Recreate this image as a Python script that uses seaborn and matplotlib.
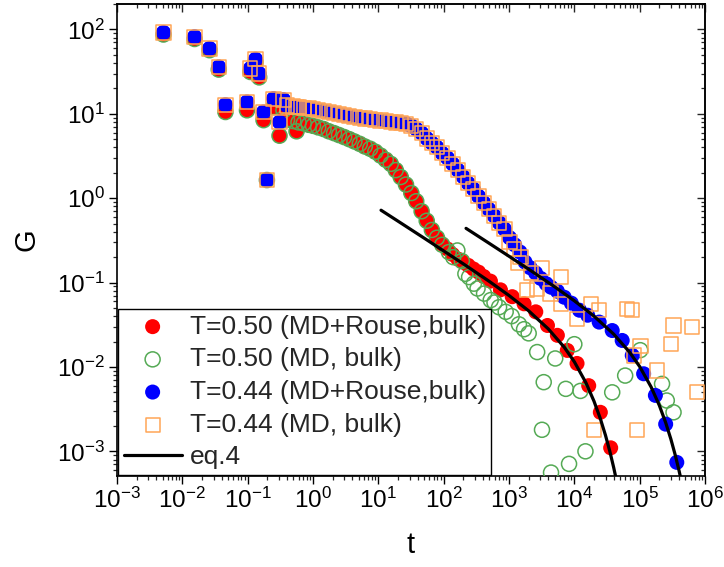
import numpy as np
import matplotlib
matplotlib.use("Agg")
import matplotlib.pyplot as plt
from matplotlib.ticker import LogLocator, NullFormatter
import seaborn as sns

# ---------------- data ----------------
early_t = [0.00514, 0.0154, 0.0261, 0.0361, 0.0457, 0.0977, 0.11, 0.132,
           0.15, 0.175, 0.197, 0.249, 0.307, 0.353, 0.56]
red_early_G = [87, 77, 56.7, 33.4, 10.5, 11.0, 31.3, 41, 27, 8.4, 1.64, 12, 5.5, 11, 6.2]
blue_early_G = [92, 82, 59.4, 35.9, 12.8, 13.8, 34.4, 44.3, 30, 10.5, 1.64, 15.1, 7.95, 14.7, 12.0]

red_t = [0.4, 0.5, 0.6, 0.72, 0.86, 1.0, 1.2, 1.45, 1.75, 2.1, 2.5, 3.0, 3.6, 4.3,
         5.2, 6.2, 7.5, 9.0, 10.8, 13, 15.5, 18.5, 22, 26.5, 32, 38, 46, 55, 66,
         79, 95, 114, 137, 165, 198, 237, 285, 342, 410, 520, 740, 1120, 1700,
         2570, 3880, 5500, 7800, 11000, 16600, 25000, 36000]
red_G = [8.5, 8.2, 7.9, 7.7, 7.4, 7.2, 6.9, 6.6, 6.2, 5.9, 5.6, 5.3, 5.0, 4.7,
         4.4, 4.1, 3.85, 3.55, 3.2, 2.85, 2.55, 2.15, 1.78, 1.45, 1.15, 0.92,
         0.70, 0.54, 0.42, 0.34, 0.285, 0.25, 0.215, 0.19, 0.175, 0.16, 0.145,
         0.133, 0.118, 0.104, 0.082, 0.068, 0.056, 0.045, 0.031, 0.0237, 0.0157,
         0.011, 0.006, 0.0029, 0.0011]

green_t = [0.4, 0.5, 0.6, 0.72, 0.86, 1.0, 1.2, 1.45, 1.75, 2.1, 2.5, 3.0, 3.6, 4.3,
           5.2, 6.2, 7.5, 9.0, 10.8, 13, 15.5, 18.5, 22, 26.5, 32, 38, 46, 55, 66,
           79, 95, 120, 140, 162, 190, 215, 245, 290, 330, 415, 525, 600, 705, 890,
           1100, 1420, 1700, 2000, 2700, 3200, 3400, 4400, 5100, 7400, 8300, 10000,
           12400, 14800, 38000, 60000, 102000, 220000, 260000, 330000]
green_G = [8.5, 8.2, 7.9, 7.7, 7.4, 7.2, 6.9, 6.6, 6.2, 5.9, 5.6, 5.3, 5.0, 4.7,
           4.4, 4.1, 3.85, 3.55, 3.2, 2.85, 2.55, 2.15, 1.78, 1.45, 1.15, 0.92,
           0.70, 0.54, 0.42, 0.34, 0.28, 0.23, 0.2, 0.24, 0.18, 0.127, 0.116,
           0.097, 0.085, 0.074, 0.062, 0.058, 0.051, 0.045, 0.04, 0.032, 0.028,
           0.025, 0.015, 0.0018, 0.0066, 0.00056, 0.0126, 0.0055, 0.00071, 0.0186,
           0.0052, 0.001, 0.005, 0.0079, 0.0158, 0.0063, 0.004, 0.0029]

blue_t = [0.4, 0.5, 0.6, 0.72, 0.86, 1.0, 1.2, 1.45, 1.75, 2.1, 2.5, 3.0, 3.6, 4.3,
          5.2, 6.2, 7.5, 9.0, 10.8, 13, 15.5, 18.5, 22, 26.5, 32, 38, 46, 55, 66,
          79, 95, 114, 137, 165, 198, 237, 285, 342, 410, 490, 590, 710, 850, 1020,
          1220, 1470, 1760, 2100, 2550, 3050, 3700, 4400, 5500, 7000, 9000, 12000,
          16000, 24000, 38000, 54000, 77000, 115000, 174000, 250000, 370000]
blue_G = [12.5, 12.2, 12.0, 11.8, 11.6, 11.4, 11.1, 10.8, 10.5, 10.2, 9.9, 9.6,
          9.4, 9.2, 9.0, 8.8, 8.6, 8.5, 8.3, 8.15, 8.0, 7.9, 7.8, 7.6, 7.2, 6.6,
          5.9, 5.1, 4.5, 4.0, 3.4, 3.0, 2.55, 2.15, 1.8, 1.5, 1.28, 1.05, 0.88,
          0.74, 0.62, 0.51, 0.43, 0.34, 0.28, 0.23, 0.175, 0.15, 0.13, 0.112,
          0.097, 0.088, 0.079, 0.067, 0.057, 0.047, 0.041, 0.034, 0.027, 0.0206,
          0.0137, 0.0083, 0.0046, 0.0021, 0.00074]

orange_t = [0.4, 0.5, 0.6, 0.72, 0.86, 1.0, 1.2, 1.45, 1.75, 2.1, 2.5, 3.0, 3.6, 4.3,
            5.2, 6.2, 7.5, 9.0, 10.8, 13, 15.5, 18.5, 22, 26.5, 32, 38, 46, 55, 66,
            79, 95, 114, 137, 165, 198, 237, 285, 342, 410, 490, 590, 710, 850, 1020,
            1200, 1400, 1500, 1900, 2200, 2700, 3200, 4300, 6200, 6200, 11000, 18000,
            20000, 24000, 64000, 77000, 81000, 91000, 103000, 185000, 300000, 330000,
            630000, 760000]
orange_G = [12.5, 12.2, 12.0, 11.8, 11.6, 11.4, 11.1, 10.8, 10.5, 10.2, 9.9, 9.6,
            9.4, 9.2, 9.0, 8.8, 8.6, 8.5, 8.3, 8.15, 8.0, 7.9, 7.8, 7.6, 7.2, 6.6,
            5.9, 5.1, 4.5, 4.0, 3.4, 3.0, 2.55, 2.15, 1.8, 1.5, 1.28, 1.05, 0.88,
            0.74, 0.62, 0.51, 0.43, 0.3, 0.25, 0.17, 0.2, 0.081, 0.13, 0.085, 0.15,
            0.074, 0.116, 0.056, 0.037, 0.056, 0.0018, 0.047, 0.049, 0.047, 0.0137,
            0.0018, 0.0178, 0.0091, 0.0186, 0.031, 0.030, 0.005]

eq4_t_050 = [11, 20, 50, 100, 200, 500, 1000, 2000, 4000, 7000, 10000, 15000,
             20000, 25000, 30000, 35000, 40000, 45000]
eq4_G_050 = [0.720, 0.534, 0.337, 0.237, 0.1666, 0.1031, 0.0703, 0.0462, 0.0282,
             0.01714, 0.01152, 0.00653, 0.003926, 0.00244, 0.001546, 0.000993,
             0.000644, 0.000422]
eq4_t_044 = [220, 500, 1000, 2000, 5000, 10000, 20000, 40000, 70000, 100000,
             150000, 200000, 250000, 300000, 350000, 400000, 430000]
eq4_G_044 = [0.439, 0.291, 0.205, 0.144, 0.0891, 0.0608, 0.0400, 0.0245, 0.01497,
             0.01011, 0.00577, 0.0035, 0.00219, 0.0014, 0.000906, 0.000593, 0.000462]

labels = ["T=0.50 (MD+Rouse,bulk)", "T=0.50 (MD, bulk)",
          "T=0.44 (MD+Rouse,bulk)", "T=0.44 (MD, bulk)", "eq.4"]

# ---------------- styling ----------------
sns.set_theme(style="ticks")
plt.rcParams['font.family'] = ['Liberation Sans', 'DejaVu Sans']
plt.rcParams['mathtext.fontset'] = 'custom'
plt.rcParams['mathtext.rm'] = 'Liberation Sans'
plt.rcParams['mathtext.it'] = 'Liberation Sans:italic'
plt.rcParams['mathtext.bf'] = 'Liberation Sans:bold'

fig = plt.figure(figsize=(7.24, 5.67), dpi=100)
ax = fig.add_axes([117 / 724, 91 / 567, 588 / 724, 472 / 567])
ax.set_xscale('log')
ax.set_yscale('log')

msize = 117
sns.scatterplot(x=early_t + red_t, y=red_early_G + red_G, ax=ax, marker='o', s=msize,
                color='#ff0000', edgecolor='none', linewidth=0, label=labels[0], zorder=2)
sns.scatterplot(x=early_t + green_t, y=red_early_G + green_G, ax=ax, marker='o', s=msize,
                facecolors='none', edgecolor='#55aa55', linewidth=1.1, label=labels[1], zorder=3)
sns.scatterplot(x=early_t + blue_t, y=blue_early_G + blue_G, ax=ax, marker='o', s=msize,
                color='#0000ff', edgecolor='none', linewidth=0, label=labels[2], zorder=4)
sns.scatterplot(x=early_t + orange_t, y=blue_early_G + orange_G, ax=ax, marker='s', s=105,
                facecolors='none', edgecolor='#ffa556', linewidth=1.1, label=labels[3], zorder=5)
sns.lineplot(x=eq4_t_050, y=eq4_G_050, ax=ax, color='black', linewidth=2.3, sort=False,
             estimator=None, label=labels[4], zorder=6)
sns.lineplot(x=eq4_t_044, y=eq4_G_044, ax=ax, color='black', linewidth=2.3, sort=False,
             estimator=None, label='_nolegend_', zorder=6)

ax.set_xlim(1e-3, 1e6)
ax.set_ylim(5.1e-4, 200)

for axis in (ax.xaxis, ax.yaxis):
    axis.set_major_locator(LogLocator(base=10, numticks=20))
    axis.set_minor_locator(LogLocator(base=10, subs=np.arange(2, 10), numticks=20))
    axis.set_minor_formatter(NullFormatter())

ax.tick_params(which='major', direction='out', length=5.5, width=1.0, labelsize=17.5,
               pad=3, colors='black')
ax.tick_params(which='minor', direction='out', length=3, width=0.9)

for sp in ax.spines.values():
    sp.set_linewidth(1.2)
    sp.set_color('black')

# inward mirrored ticks on top and right
secx = ax.secondary_xaxis('top')
secy = ax.secondary_yaxis('right')
for sec, axis in ((secx, secx.xaxis), (secy, secy.yaxis)):
    axis.set_major_locator(LogLocator(base=10, numticks=20))
    axis.set_minor_locator(LogLocator(base=10, subs=np.arange(2, 10), numticks=20))
    axis.set_major_formatter(NullFormatter())
    axis.set_minor_formatter(NullFormatter())
    sec.tick_params(which='major', direction='in', length=5.5, width=1.0)
    sec.tick_params(which='minor', direction='in', length=3, width=0.9)
    for sp in sec.spines.values():
        sp.set_linewidth(1.2)

ax.set_xlabel('t', fontsize=21, labelpad=13, color='black')
ax.set_ylabel('G', fontsize=21, labelpad=12, color='black')

leg = ax.legend(loc='lower left', bbox_to_anchor=(0.0, 0.0), fontsize=19, frameon=True,
                fancybox=False, edgecolor='black', framealpha=1, borderaxespad=0.05,
                handlelength=2.2, handletextpad=0.3, labelspacing=0.33, borderpad=0.2,
                scatterpoints=1)
leg.get_frame().set_linewidth(1.0)
leg.set_zorder(10)

fig.savefig('out.png', dpi=100)
